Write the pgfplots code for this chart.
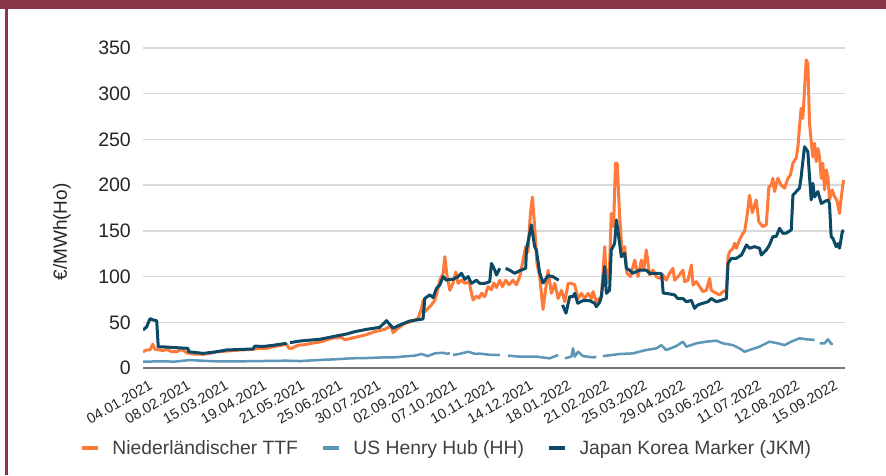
\documentclass[border=0pt]{standalone}
\usepackage{pgfplots}
\pgfplotsset{compat=1.18}
\usepackage{fontspec}
\setmainfont{Liberation Sans}
\definecolor{framered}{RGB}{137,52,72}
\definecolor{ttf}{RGB}{255,121,56}
\definecolor{hh}{RGB}{92,150,184}
\definecolor{jkm}{RGB}{11,73,102}
\definecolor{gridgray}{RGB}{217,217,217}
\definecolor{axisgray}{RGB}{118,118,118}
\definecolor{txt}{RGB}{38,38,38}
\definecolor{legtxt}{RGB}{64,64,64}
\begin{document}
\begin{tikzpicture}
\useasboundingbox (0,0) rectangle (886pt,475pt);
\fill[white] (0,0) rectangle (886pt,475pt);
\fill[framered] (0,466pt) rectangle (886pt,475pt);
\fill[framered] (5pt,0) rectangle (7.5pt,466pt);
\begin{axis}[
  at={(143pt,107pt)}, anchor=south west,
  scale only axis, width=702pt, height=320pt,
  xmin=0, xmax=461, ymin=0, ymax=350,
  ytick={0,50,...,350},
  xtick={0,25,...,450},
  xticklabels={04.01.2021,08.02.2021,15.03.2021,19.04.2021,21.05.2021,25.06.2021,30.07.2021,02.09.2021,07.10.2021,10.11.2021,14.12.2021,18.01.2022,21.02.2022,25.03.2022,29.04.2022,03.06.2022,11.07.2022,12.08.2022,15.09.2022},
  axis x line*=bottom, axis y line*=left,
  x axis line style={draw=axisgray, line width=2.5pt, -},
  y axis line style={draw=none},
  tick style={draw=none},
  major tick length=0pt,
  ymajorgrids, grid style={gridgray, line width=1.3pt},
  /pgf/number format/assume math mode=true,
  yticklabel style={font=\fontsize{19.5}{22}\selectfont, text=txt, anchor=east, inner sep=0pt, xshift=-12pt},
  xticklabel style={font=\fontsize{14.5}{17}\selectfont, text=txt, inner sep=0pt, xshift=8pt, yshift=-16pt, rotate=30, anchor=east},
  unbounded coords=jump,
  legend columns=3,
  legend style={at={(axis description cs:0.431,-0.25)}, anchor=center, draw=none, fill=none,
    font=\fontsize{19.3}{22}\selectfont, text=legtxt,
    nodes={inner sep=0pt},
    /tikz/every odd column/.append style={column sep=12pt},
    /tikz/every even column/.append style={column sep=23pt}},
  legend image code/.code={\draw[line width=4.5pt] (0pt,0pt) -- (16pt,0pt);},
]
\addplot[ttf, line width=3pt, line join=round] coordinates {
(0,17.8) (2.4,19.7) (4.6,19.7) (6.4,26) (7.9,20.4) (11.2,19.7) (13.3,19) (15.6,20.4) (18.8,17.8) (22.1,17.8) (25.4,20.4) (28.7,16.7) (33,15.3) (39.6,15) (44,16.1) (48.4,17.8) (54.9,18.5) (63.7,19.7) (72.4,20.4) (76.8,21.5) (81.2,21.5) (85.5,23.3) (89.9,24.5) (94.3,26.3) (95.8,21.5) (97.6,21.5) (101.9,25) (106.3,25.5) (110.7,27) (117.3,28.8) (123.8,32.5) (130.4,33.5) (132.6,30.8) (139.1,33.5) (145.7,36) (152.2,39.7) (158.8,42.3) (162.7,46) (164.3,38.7) (167.5,43.4) (171.9,48.9) (176.3,50.7) (180.7,54.4) (182.9,65.3) (184,74.4) (185,61.6) (187.2,65) (189.4,69) (191.6,74) (192.7,80) (194.9,96) (197.1,103.6) (198.2,121.8) (199.7,100) (201.5,85) (203.6,93) (205.4,105) (206.9,92.6) (209.1,96) (211.3,92.6) (214.1,94.4) (215.7,81.7) (216.8,74.4) (219,78.5) (220.7,76.5) (222.3,81.7) (224.4,78) (226.6,89) (228.8,85.5) (230.3,93) (232.1,88) (234.3,96) (236,89) (238.2,96) (240.4,91) (243,96) (245.2,91) (247.4,100) (249.6,118) (251.3,132.7) (252.8,127) (254.4,169) (255.7,187) (257.2,154.6) (258.7,114.5) (260.5,100) (262.7,64) (264.9,92.6) (266,107) (268.2,81.7) (270.4,92.6) (272.6,76) (274.8,85) (277,72.5) (279.2,92.6) (281.3,92.6) (283.5,91) (285.7,76) (287.9,81.7) (290.1,76) (292.3,81.7) (294.5,76) (295.5,83.6) (297.7,72.5) (301,78) (303.2,132.7) (304.3,92.6) (306.4,111) (307.5,169) (309,154.6) (310.3,224) (311.4,224) (313,165.5) (314.8,121.8) (316.3,132.7) (317.8,103.6) (320.1,100) (322.9,118) (325.1,100) (327.3,118) (328.8,107) (330.5,129) (332.7,101.7) (334.9,107) (337.1,100) (339.3,98) (341.4,101.7) (343.6,96) (345.8,103.6) (348,109) (349.1,96) (351.3,99.7) (354.6,107) (355.7,94.4) (357.9,96) (360.1,112.7) (361.2,90.8) (363.4,94.4) (365.5,89) (367.7,83.5) (369.9,85) (372.1,98) (373.2,85) (376.5,81.7) (378.6,80) (380.8,83.5) (383.1,85) (384.2,121.8) (385.2,127) (387.4,131) (388.5,136.4) (389.7,131) (391.7,140) (393.9,147.3) (395,149) (396.6,165.5) (398.3,189) (400.1,170) (402.7,183.8) (404.4,160) (407,154.6) (409.3,156.5) (411,198) (412.6,200) (413.6,207.5) (414.7,193) (416.9,207.5) (419.1,200) (421.3,196.6) (423.5,207.5) (425.1,211) (426.8,224) (429,230) (430.1,242) (431.1,264) (432.2,284) (433.3,273) (434.4,304) (435.5,337) (436.6,333) (437.7,267.7) (438.8,247.6) (439.9,231) (441,245.8) (442.1,225.7) (443.2,240) (444.3,231) (445.4,207.5) (446.4,224) (447.6,194.7) (448.7,216.6) (449.8,209) (450.8,183.8) (452.6,194.7) (454.1,187.4) (455.6,183.8) (457.4,169) (458.5,186) (460,205.7)
};
\addlegendentry{Niederländischer TTF}
\addplot[hh, line width=2.5pt, line join=round] coordinates {
(0,6.9) (11.2,7.3) (21,7) (30.8,8.7) (40.7,7.8) (50.5,7.2) (63.7,7.3) (76.8,7.6) (94.3,8) (103,7.6) (114.8,8.7) (126,9.5) (137,10.6) (149,11) (158.8,11.7) (165.4,11.7) (173.9,13) (178.5,13.5) (182.9,15.3) (187,13) (191.6,16) (197.1,16.7) (199.3,15.7) (201.5,16) (202.5,nan) (203.6,14.2) (208,15.5) (213.5,17.8) (218,15.5) (221.1,15.7) (227.7,14.5) (234.3,14.2) (236,nan) (239.7,13.5) (247.4,12.4) (258.3,12.4) (267.1,10.6) (272.6,14.2) (274,nan) (277,10.6) (281.3,12.4) (282.4,21.5) (283.5,12.4) (285.7,17.8) (289,13) (295.5,11.6) (297.7,12.4) (299,nan) (302,13) (313,15.3) (321.7,16) (330.5,19.7) (337.1,21.5) (340.4,25) (343.6,19.7) (350.2,24) (354.6,28.8) (356.8,23.3) (363.4,27) (369.9,28.8) (376.5,29.9) (380.8,27) (387.4,25) (391.7,21.5) (395,17.8) (398.3,19.7) (404.9,23.3) (411.4,28.8) (416.9,27) (421.3,25) (425.7,28.8) (431.1,32.5) (435.5,31.4) (441,30.7) (442.5,nan) (444.3,27) (447.6,27) (449.8,31.4) (452,26.3) (453,26.3)
};
\addlegendentry{US Henry Hub (HH)}
\addplot[jkm, line width=3pt, line join=round] coordinates {
(0,41.6) (2.4,45) (4.6,54) (6.8,52.5) (9,51.7) (10,23.3) (14.4,23) (19,22.5) (24.3,22) (29.5,21.5) (30,17.8) (34.1,17) (39.4,16) (47.2,17.5) (54.9,19.7) (63.7,20.3) (72.2,20.8) (73.5,24) (78.7,23.5) (85.3,24.8) (94.3,27) (95.5,nan) (96.5,27.7) (103,29.5) (109.6,30.5) (116.1,31.4) (124.7,34.3) (133.7,37.2) (139.1,39.7) (146.8,42.3) (155.5,44.5) (159.9,51.8) (164.3,43.4) (168.6,47) (175.2,51.4) (183.9,53.6) (185,76) (188.3,80) (190.5,77) (192.7,87) (194.9,90.8) (197.1,100) (199.3,96) (201.5,97) (203.6,97) (206.9,100) (209.1,103.6) (211.3,97) (213.5,100) (215.7,92.6) (219,96) (221.1,92.6) (224.4,92.6) (227.7,94.4) (228.8,114.5) (231,107) (232.1,101.7) (234.3,109) (236,nan) (238.2,109) (240.8,107) (244.1,103.6) (247.4,106.5) (251.3,109) (251.8,129) (255,156.5) (257.2,132.7) (258.3,129) (260.5,104) (262.7,93) (266,101) (269,100) (273,96) (274.2,nan) (275.5,69) (277.8,60) (280.2,78) (282.4,78) (283.5,81.7) (285.5,70.8) (289,73.7) (293.3,73.7) (296.6,70.8) (297.7,67) (299.9,72) (301,78) (303.2,111) (304.3,81.7) (306.4,85) (307.5,129) (309.7,136) (310.9,162) (313,136) (314.1,121.8) (316.3,125.5) (317.4,109) (319.6,107) (321.7,103.6) (326.1,107) (330.5,107) (332.7,103.6) (338.1,103.6) (340.6,103) (341.6,82) (345.8,81) (349.1,80) (351.1,76) (354.6,76) (356.8,72.5) (360.1,74) (362.2,65.3) (364.4,69) (367.7,70.8) (371,72.5) (373.2,76) (376.5,72.5) (379.8,74) (383.1,76) (384.2,114.5) (386.4,120) (389.7,120) (393,123.6) (396.3,134.6) (398.3,131) (401.6,132.7) (404.9,131) (406,123.6) (409.3,129) (411.4,134.6) (413.6,143.7) (415.8,143.7) (418,152.8) (420.2,147.3) (422.4,147.5) (425.7,151) (426.8,189) (429,193) (431.1,196.6) (432.2,209) (434.4,242) (436.6,236.7) (437.7,209) (438.8,183.8) (439.9,202) (441,187) (443.2,193) (445.4,180) (447.6,182) (449.8,183.8) (450.8,180) (451.9,143.7) (453,142) (455.2,132.7) (456.3,136) (457.4,131) (459.2,149) (460,151)
};
\addlegendentry{Japan Korea Marker (JKM)}
\end{axis}
\node[rotate=90, font=\fontsize{19}{22}\selectfont, text=txt] at (62pt,243pt) {€/MWh(Ho)};
\end{tikzpicture}
\end{document}
